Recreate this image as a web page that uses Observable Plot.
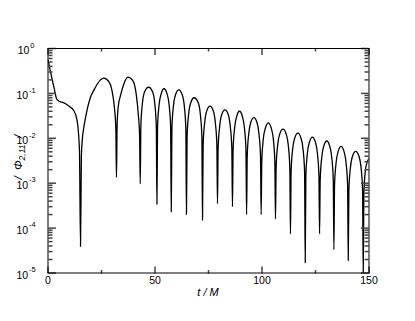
<!DOCTYPE html>
<html>
<head>
<meta charset="utf-8">
<script src="https://cdn.jsdelivr.net/npm/d3@7"></script>
<script src="https://cdn.jsdelivr.net/npm/@observablehq/plot@0.6"></script>
<style>
  html, body { margin: 0; padding: 0; background: #fff; }
  svg { display: block; }
</style>
</head>
<body>
<div id="chart"></div>
<script>
// time t/M
const tValues = [
  0, 1, 2, 3, 4, 5, 6.5, 8.2, 10, 12, 13.6, 14.7, 15.2, 15.6, 16.0, 16.7, 17.5, 18.5, 19.9, 21.5, 23, 24.5, 26.1, 28.5, 29.5, 30.3, 31.1, 31.7, 32.0,
  32.3, 32.8, 33.9, 35.4, 37.3, 39.7, 41.3, 42.3, 42.8, 43.1,
  43.4, 44.1, 45.1, 47.0, 48.9, 49.9, 50.6, 50.9,
  51.2, 51.9, 52.9, 54.2, 55.6, 56.6, 57.3, 57.6,
  57.9, 58.6, 59.6, 61.1, 62.7, 63.7, 64.4, 64.7,
  65.0, 65.7, 66.7, 68.3, 70.2, 71.2, 71.9, 72.2,
  72.5, 73.2, 74.2, 75.7, 77.2, 78.2, 78.9, 79.2,
  79.5, 80.2, 81.2, 82.7, 84.2, 85.2, 85.9, 86.2,
  86.5, 87.2, 88.2, 89.5, 90.8, 91.8, 92.5, 92.8,
  93.1, 93.8, 94.8, 96.2, 97.6, 98.6, 99.3, 99.6,
  99.9, 100.6, 101.6, 102.95, 104.3, 105.3, 106.0, 106.3,
  106.6, 107.3, 108.3, 109.8, 111.3, 112.3, 113.0, 113.3,
  113.6, 114.3, 115.3, 116.75, 118.2, 119.2, 119.9, 120.2,
  120.5, 121.2, 122.2, 123.55, 124.9, 125.9, 126.6, 126.9,
  127.2, 127.9, 128.9, 130.25, 131.6, 132.6, 133.3, 133.6,
  133.9, 134.6, 135.6, 136.95, 138.3, 139.3, 140.0, 140.3,
  140.6, 141.3, 142.3, 143.8, 145.3, 146.3, 147.0, 147.3,
  147.6, 148.3, 149.3, 150
];
// |Phi_{2,11}|
const phiValues = [
  0.56, 0.33, 0.2, 0.123, 0.076, 0.068, 0.064, 0.059, 0.051, 0.042, 0.025, 0.0054, 3.9e-5, 0.004, 0.009, 0.017, 0.028, 0.048, 0.083, 0.12, 0.16, 0.2, 0.22, 0.18, 0.14, 0.09, 0.045, 0.016, 1.35e-3,
  0.02, 0.05, 0.09, 0.16, 0.23, 0.19, 0.09, 0.03, 0.012, 9.7e-4,
  0.019, 0.059, 0.107, 0.137, 0.107, 0.059, 0.019, 3.4e-4,
  0.018, 0.055, 0.099, 0.127, 0.099, 0.055, 0.018, 2.3e-4,
  0.017, 0.052, 0.094, 0.12, 0.094, 0.052, 0.017, 2.0e-4,
  0.011, 0.034, 0.062, 0.08, 0.062, 0.034, 0.011, 1.5e-4,
  0.0073, 0.022, 0.041, 0.052, 0.041, 0.022, 0.0073, 3.5e-4,
  0.006, 0.018, 0.034, 0.043, 0.034, 0.018, 0.006, 3.0e-4,
  0.0056, 0.017, 0.031, 0.04, 0.031, 0.017, 0.0056, 2.0e-4,
  0.0041, 0.0125, 0.023, 0.029, 0.023, 0.0125, 0.0041, 2.0e-4,
  0.0031, 0.0095, 0.017, 0.022, 0.017, 0.0095, 0.0031, 1.6e-4,
  0.0022, 0.0069, 0.0125, 0.016, 0.0125, 0.0069, 0.0022, 7.4e-5,
  0.0018, 0.0056, 0.0101, 0.013, 0.0101, 0.0056, 0.0018, 1.7e-5,
  0.0015, 0.0046, 0.0083, 0.0106, 0.0083, 0.0046, 0.0015, 7.4e-5,
  0.0012, 0.0037, 0.0068, 0.0087, 0.0068, 0.0037, 0.0012, 3.3e-5,
  0.00092, 0.0028, 0.0051, 0.0066, 0.0051, 0.0028, 0.00092, 1.9e-5,
  0.0007, 0.0022, 0.004, 0.0051, 0.004, 0.0022, 0.0007, 1.0e-5,
  0.0006, 0.0019, 0.0031, 0.0035
];

const xMajorTicks = [0, 50, 100, 150];
const xMinorTicks = [25, 75, 125];
const yMajorTicks = [1e-5, 1e-4, 1e-3, 1e-2, 1e-1, 1];
const yExponents = ["-5", "-4", "-3", "-2", "-1", "0"];
const yMinorTicks = d3.scaleLog().domain([1e-5, 1]).ticks()
  .filter(v => Math.abs(Math.log10(v) - Math.round(Math.log10(v))) > 1e-9);

const xLabel = ["t", " / ", "M"];
const yLabel = { pre: "/  ", sym: "\u03A6", sub: "2,11", post: "  /" };

const data = tValues.map((t, i) => ({ t, phi: phiValues[i] }));

const font = "'Liberation Sans', Arial, Helvetica, sans-serif";

const W = 415, H = 321, mL = 47.5, mR = 46.5, mT = 48, mB = 48.5;
const frameW = W - mL - mR, frameH = H - mT - mB;
const tickColor = "#444";
const tickWidth = 1.5;

const plot = Plot.plot({
  width: W,
  height: H,
  marginLeft: mL,
  marginRight: mR,
  marginTop: mT,
  marginBottom: mB,
  x: { domain: [0, 150] },
  y: { type: "log", domain: [1e-5, 1] },
  style: { fontFamily: font, fontSize: "10.5px", background: "#fff", color: "#000" },
  marks: [
    Plot.line(data, { x: "t", y: "phi", curve: "monotone-x", stroke: "#000", strokeWidth: 1.3, clip: true }),
    // bottom labels
    Plot.axisX({ ticks: xMajorTicks, anchor: "bottom", tickSize: 0, tickPadding: 4, tickFormat: d => String(d), label: null }),
    // inward ticks on the bottom edge (drawn upward)
    Plot.axisX({ ticks: xMajorTicks, anchor: "top", dy: frameH, tickSize: 7, tickFormat: () => "", label: null, stroke: tickColor, strokeWidth: tickWidth }),
    Plot.axisX({ ticks: xMinorTicks, anchor: "top", dy: frameH, tickSize: 3.5, tickFormat: () => "", label: null, stroke: tickColor, strokeWidth: tickWidth }),
    // inward ticks on the top edge (drawn downward)
    Plot.axisX({ ticks: xMajorTicks, anchor: "bottom", dy: -frameH, tickSize: 7, tickFormat: () => "", label: null, stroke: tickColor, strokeWidth: tickWidth }),
    Plot.axisX({ ticks: xMinorTicks, anchor: "bottom", dy: -frameH, tickSize: 3.5, tickFormat: () => "", label: null, stroke: tickColor, strokeWidth: tickWidth }),
    // inward ticks on the left edge (drawn rightward)
    Plot.axisY({ ticks: yMajorTicks, anchor: "right", dx: -frameW, tickSize: 7.5, tickFormat: () => "", label: null, stroke: tickColor, strokeWidth: tickWidth }),
    Plot.axisY({ ticks: yMinorTicks, anchor: "right", dx: -frameW, tickSize: 4, tickFormat: () => "", label: null, stroke: tickColor, strokeWidth: tickWidth }),
    // inward ticks on the right edge (drawn leftward)
    Plot.axisY({ ticks: yMajorTicks, anchor: "left", dx: frameW, tickSize: 7.5, tickFormat: () => "", label: null, stroke: tickColor, strokeWidth: tickWidth }),
    Plot.axisY({ ticks: yMinorTicks, anchor: "left", dx: frameW, tickSize: 4, tickFormat: () => "", label: null, stroke: tickColor, strokeWidth: tickWidth }),
    Plot.frame({ stroke: "#000", strokeWidth: 1 })
  ]
});

const svg = d3.select(plot);
const yScale = plot.scale("y");
const xScale = plot.scale("x");

// y tick labels 10^n
const gy = svg.append("g").attr("font-family", font).attr("fill", "#000");
yMajorTicks.forEach((v, i) => {
  const y = yScale.apply(v);
  const txt = gy.append("text").attr("x", 26).attr("y", y + 6).attr("font-size", 10.5);
  txt.append("tspan").text("10");
  txt.append("tspan").attr("dx", 0.8).attr("dy", -6.3).attr("font-size", 7.5).text(yExponents[i]);
});

// x axis label
const xl = svg.append("text")
  .attr("x", (xScale.apply(0) + xScale.apply(150)) / 2)
  .attr("y", 296)
  .attr("text-anchor", "middle")
  .attr("font-family", font)
  .attr("font-size", 11)
  .attr("font-style", "italic")
  .attr("fill", "#000")
  .style("white-space", "pre");
xl.append("tspan").text(xLabel[0]);
xl.append("tspan").text(xLabel[1]);
xl.append("tspan").text(xLabel[2]);

// y axis label
const yl = svg.append("text")
  .attr("transform", `translate(22,${(yScale.apply(1) + yScale.apply(1e-5)) / 2 - 3}) rotate(-90)`)
  .attr("text-anchor", "middle")
  .attr("font-family", font)
  .attr("font-size", 11.5)
  .attr("font-style", "italic")
  .attr("fill", "#000")
  .style("white-space", "pre");
yl.append("tspan").text(yLabel.pre);
yl.append("tspan").text(yLabel.sym);
yl.append("tspan").attr("dy", 2.5).attr("font-size", 8.5).text(yLabel.sub);
yl.append("tspan").attr("dy", -2.5).text(yLabel.post);

document.getElementById("chart").appendChild(plot);
</script>
</body>
</html>
